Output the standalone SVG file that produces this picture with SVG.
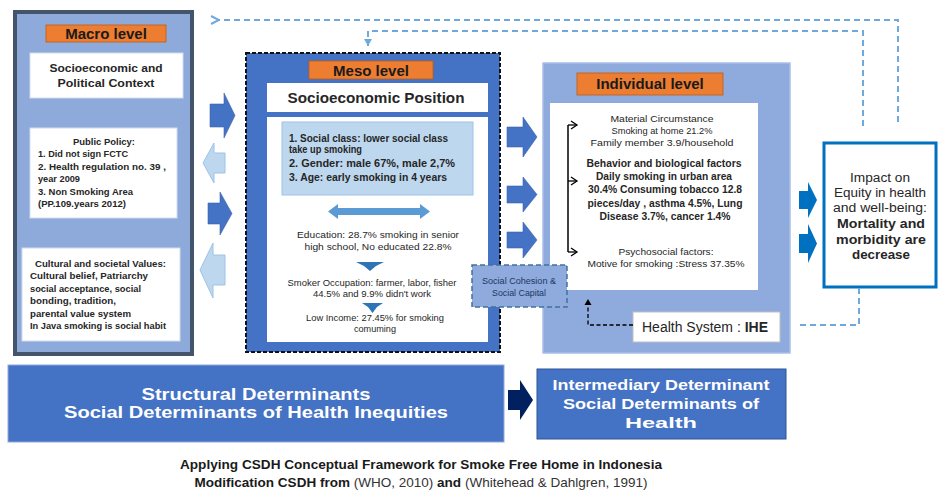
<svg xmlns="http://www.w3.org/2000/svg" width="939" height="493" viewBox="0 0 939 493">
<defs>
<style>
.t{font-family:"Liberation Sans",Arial,sans-serif;fill:#262626}
.b{font-weight:bold}
.c{text-anchor:middle}
.lbl{font-family:"Liberation Sans",Arial,sans-serif;font-weight:bold;font-size:15px;fill:#1a1a1a;text-anchor:middle}
.org{fill:#ED7D31;stroke:#C55A11;stroke-width:0.8}
.wb{fill:#fff;stroke:#D0DCEF;stroke-width:1}
.ad{fill:#4472C4;stroke:#3A64B0;stroke-width:0.6}
.al{fill:#BDD7EE;stroke:#9DC3E6;stroke-width:1}
.ai{fill:#0070C0}
.dash{fill:none;stroke:#6FA8DC;stroke-width:2;stroke-dasharray:6 4}
.wt{font-family:"Liberation Sans",Arial,sans-serif;font-weight:bold;fill:#fff;text-anchor:middle}
</style>
<marker id="mL" markerWidth="10" markerHeight="10" refX="1" refY="5" orient="auto" markerUnits="userSpaceOnUse"><path d="M9,1 L1,5 L9,9" fill="none" stroke="#6FA8DC" stroke-width="2"/></marker>
<marker id="mD" markerWidth="10" markerHeight="10" refX="5" refY="9" markerUnits="userSpaceOnUse"><path d="M1,2 L5,9 L9,2 Z" fill="#6FA8DC"/></marker>
<marker id="mB" markerWidth="10" markerHeight="10" refX="8" refY="5" orient="auto" markerUnits="userSpaceOnUse"><path d="M2,1 L8,5 L2,9" fill="none" stroke="#000" stroke-width="1.3"/></marker>
<marker id="mU" markerWidth="8" markerHeight="8" refX="4" refY="1" markerUnits="userSpaceOnUse"><path d="M0.5,7 L4,1 L7.5,7 Z" fill="#000"/></marker>
</defs>
<rect width="939" height="493" fill="#fff"/>

<g id="macro">
<rect x="15" y="12" width="177" height="342" fill="#8EAADB" stroke="#44546A" stroke-width="4"/>
<rect class="org" x="46" y="25" width="120" height="17"/>
<text class="lbl" x="106" y="39">Macro level</text>
<rect class="wb" x="30" y="53" width="153" height="45"/>
<text class="t b c" x="106" y="72" font-size="11.5" textLength="113" lengthAdjust="spacingAndGlyphs">Socioeconomic and</text>
<text class="t b c" x="106" y="87" font-size="11.5" textLength="97" lengthAdjust="spacingAndGlyphs">Political Context</text>
<rect class="wb" x="30" y="128" width="147" height="90"/>
<text class="t b c" x="104" y="145" font-size="9.5" textLength="62" lengthAdjust="spacingAndGlyphs">Public Policy:</text>
<text class="t b" x="38" y="157" font-size="9.5" textLength="90" lengthAdjust="spacingAndGlyphs">1. Did not sign FCTC</text>
<text class="t b" x="38" y="170" font-size="9.5" textLength="128" lengthAdjust="spacingAndGlyphs">2. Health regulation no. 39 ,</text>
<text class="t b" x="38" y="182" font-size="9.5" textLength="42" lengthAdjust="spacingAndGlyphs">year 2009</text>
<text class="t b" x="38" y="195" font-size="9.5" textLength="95" lengthAdjust="spacingAndGlyphs">3. Non Smoking Area</text>
<text class="t b" x="38" y="207" font-size="9.5" textLength="88" lengthAdjust="spacingAndGlyphs">(PP.109.years 2012)</text>
<rect class="wb" x="22" y="248" width="158" height="93"/>
<text class="t b" x="35" y="267" font-size="9.5" textLength="131" lengthAdjust="spacingAndGlyphs">Cultural and societal Values:</text>
<text class="t b" x="30" y="279" font-size="9.5" textLength="118" lengthAdjust="spacingAndGlyphs">Cultural belief, Patriarchy</text>
<text class="t b" x="30" y="292" font-size="9.5" textLength="111" lengthAdjust="spacingAndGlyphs">social acceptance, social</text>
<text class="t b" x="30" y="304" font-size="9.5" textLength="86" lengthAdjust="spacingAndGlyphs">bonding, tradition,</text>
<text class="t b" x="30" y="317" font-size="9.5" textLength="101" lengthAdjust="spacingAndGlyphs">parental value system</text>
<text class="t b" x="30" y="329" font-size="9.5" textLength="136" lengthAdjust="spacingAndGlyphs">In Java smoking is social habit</text>
</g>

<g id="meso">
<rect x="246" y="53" width="254" height="299" fill="#4472C4" stroke="#111" stroke-width="2" stroke-dasharray="4 2"/>
<rect class="org" x="309" y="61" width="124" height="18"/>
<text class="lbl" x="371" y="76">Meso level</text>
<rect x="267" y="83" width="221" height="29" fill="#fff"/>
<text class="t b c" x="376" y="103" font-size="14" textLength="177" lengthAdjust="spacingAndGlyphs">Socioeconomic Position</text>
<rect x="267" y="117" width="221" height="225" fill="#fff"/>
<rect x="282" y="122" width="191" height="73" fill="#BDD7EE" stroke="#9DC3E6" stroke-width="1"/>
<text class="t b" x="289" y="142" font-size="10" textLength="159" lengthAdjust="spacingAndGlyphs">1. Social class: lower social class</text>
<text class="t b" x="289" y="153" font-size="10" textLength="73" lengthAdjust="spacingAndGlyphs">take up smoking</text>
<text class="t b" x="289" y="167" font-size="10" textLength="166" lengthAdjust="spacingAndGlyphs">2. Gender:  male  67%, male 2,7%</text>
<text class="t b" x="289" y="181" font-size="10" textLength="158" lengthAdjust="spacingAndGlyphs">3. Age: early smoking in 4 years</text>
<path d="M328,211.5 L338,204 V208 H420 V204 L430,211.5 L420,219 V215 H338 V219 Z" fill="#5B9BD5"/>
<text class="t c" x="378" y="238" font-size="9.5" textLength="162" lengthAdjust="spacingAndGlyphs">Education: 28.7% smoking in senior</text>
<text class="t c" x="378" y="250" font-size="9.5" textLength="147" lengthAdjust="spacingAndGlyphs">high school, No educated 22.8%</text>
<path d="M356,262 H384 L376,266 L370,271 L364,266 Z" fill="#2E75B6"/>
<text class="t c" x="372" y="286" font-size="9" textLength="169" lengthAdjust="spacingAndGlyphs">Smoker Occupation:  farmer, labor, fisher</text>
<text class="t c" x="372" y="297" font-size="9" textLength="118" lengthAdjust="spacingAndGlyphs">44.5% and 9.9% didn't work</text>
<path d="M362,303 H383 L377,307 L372.5,313 L368,307 Z" fill="#2E75B6"/>
<text class="t c" x="375" y="321" font-size="9" textLength="138" lengthAdjust="spacingAndGlyphs">Low Income: 27.45%  for smoking</text>
<text class="t c" x="375" y="332" font-size="9" textLength="42" lengthAdjust="spacingAndGlyphs">comuming</text>
</g>

<g id="individual">
<rect x="543" y="63" width="247" height="290" fill="#8FAADC" stroke="#A9BFE6" stroke-width="1.5"/>
<rect class="org" x="577" y="73" width="146" height="22"/>
<text class="lbl" x="650" y="89" font-size="15.5">Individual  level</text>
<rect x="550" y="103" width="208" height="187" fill="#fff"/>
<text class="t c" x="662" y="122" font-size="9" fill="#3a3a3a" textLength="103" lengthAdjust="spacingAndGlyphs">Material Circumstance</text>
<text class="t c" x="662" y="134" font-size="9" textLength="101" lengthAdjust="spacingAndGlyphs">Smoking at home 21.2%</text>
<text class="t c" x="662" y="146" font-size="9" textLength="143" lengthAdjust="spacingAndGlyphs">Family member 3.9/household</text>
<text class="t b c" x="664" y="167" font-size="10.5" textLength="155" lengthAdjust="spacingAndGlyphs">Behavior and biological factors</text>
<text class="t b c" x="664" y="180" font-size="10.5" textLength="136" lengthAdjust="spacingAndGlyphs">Daily smoking in urban area</text>
<text class="t b c" x="665" y="193" font-size="10.5" textLength="154" lengthAdjust="spacingAndGlyphs">30.4% Consuming tobacco 12.8</text>
<text class="t b c" x="665" y="207" font-size="10.5" textLength="155" lengthAdjust="spacingAndGlyphs">pieces/day , asthma 4.5%, Lung</text>
<text class="t b c" x="665" y="220" font-size="10.5" textLength="131" lengthAdjust="spacingAndGlyphs">Disease 3.7%, cancer 1.4%</text>
<text class="t c" x="666" y="255" font-size="9" textLength="95" lengthAdjust="spacingAndGlyphs">Psychosocial factors:</text>
<text class="t c" x="666" y="267" font-size="9" textLength="157" lengthAdjust="spacingAndGlyphs">Motive for smoking :Stress 37.35%</text>
</g>

<g id="health-system">
<rect x="633" y="312" width="147" height="30" fill="#fff" stroke="#BFBFBF" stroke-width="1"/>
<text x="642" y="332" font-family="'Liberation Sans',Arial,sans-serif" font-size="14" fill="#262626" textLength="126" lengthAdjust="spacingAndGlyphs">Health System : <tspan font-weight="bold">IHE</tspan></text>
</g>

<g id="social-cohesion">
<rect x="472" y="265" width="95" height="42" fill="#8FAADC" stroke="#41719C" stroke-width="1.5" stroke-dasharray="5 3"/>
<text class="c" x="519" y="284" font-family="'Liberation Sans',Arial,sans-serif" font-size="8.5" fill="#203864" textLength="74" lengthAdjust="spacingAndGlyphs">Social Cohesion &amp;</text>
<text class="c" x="519" y="296" font-family="'Liberation Sans',Arial,sans-serif" font-size="8.5" fill="#203864" textLength="54" lengthAdjust="spacingAndGlyphs">Social Capital</text>
</g>

<g id="impact">
<rect x="824" y="143" width="112" height="144" fill="#fff" stroke="#0070C0" stroke-width="3"/>
<g font-family="'Liberation Sans',Arial,sans-serif" fill="#262626" text-anchor="middle">
<text x="880" y="182" font-size="12.5" textLength="60" lengthAdjust="spacingAndGlyphs">Impact on</text>
<text x="880" y="197" font-size="12.5" textLength="92" lengthAdjust="spacingAndGlyphs">Equity in health</text>
<text x="880" y="212" font-size="12.5" textLength="94" lengthAdjust="spacingAndGlyphs">and well-being:</text>
<text x="881" y="228" font-size="13" font-weight="bold" textLength="88" lengthAdjust="spacingAndGlyphs">Mortality and</text>
<text x="881" y="244" font-size="13" font-weight="bold" textLength="90" lengthAdjust="spacingAndGlyphs">morbidity are</text>
<text x="881" y="259" font-size="13" font-weight="bold" textLength="58" lengthAdjust="spacingAndGlyphs">decrease</text>
</g>
</g>

<g id="structural">
<rect x="8" y="365" width="496" height="77" fill="#4472C4" stroke="#8EAADB" stroke-width="1"/>
<text class="wt" x="256" y="400" font-size="16.5" textLength="229" lengthAdjust="spacingAndGlyphs">Structural Determinants</text>
<text class="wt" x="256" y="418" font-size="16.5" textLength="384" lengthAdjust="spacingAndGlyphs">Social Determinants of Health Inequities</text>
</g>

<g id="intermediary">
<rect x="537" y="369" width="249" height="70" fill="#4472C4" stroke="#2F5597" stroke-width="1"/>
<text class="wt" x="661" y="390" font-size="15" textLength="217" lengthAdjust="spacingAndGlyphs">Intermediary  Determinant</text>
<text class="wt" x="661" y="409" font-size="15" textLength="196" lengthAdjust="spacingAndGlyphs">Social Determinants of</text>
<text class="wt" x="661" y="428" font-size="15" textLength="72" lengthAdjust="spacingAndGlyphs">Health</text>
</g>

<g id="connectors">
<path class="ad" d="M210,104 H224 V93 L235,115.5 L224,138 V127 H210 Z"/>
<path class="al" d="M203,163 L214,143 V153 H225 V173 H214 V183 Z"/>
<path class="ad" d="M208,203 H220 V192 L232,213.5 L220,235 V224 H208 Z"/>
<path class="al" d="M200,270 L213,243 V255 H225 V285 H213 V298 Z"/>
<path class="ad" d="M507,127 H523 V117 L537,137 L523,157 V147 H507 Z"/>
<path class="ad" d="M507,186 H523 V177 L537,194.5 L523,212 V203 H507 Z"/>
<path class="ad" d="M507,232 H523 V222 L537,240 L523,258 V248 H507 Z"/>
<path class="ai" d="M799,191 H808 V182 L817,200 L808,218 V209 H799 Z"/>
<path class="ai" d="M799,234 H808 V224 L817,243.5 L808,263 V253 H799 Z"/>
<path d="M508,390 H520 V380 L533,400 L520,420 V410 H508 Z" fill="#002060"/>
<path d="M568,125 V252" stroke="#000" stroke-width="1.5" fill="none"/>
<path d="M568,125 H577" stroke="#000" stroke-width="1.3" fill="none" marker-end="url(#mB)"/>
<path d="M568,181 H577" stroke="#000" stroke-width="1.3" fill="none" marker-end="url(#mB)"/>
<path d="M568,252 H577" stroke="#000" stroke-width="1.3" fill="none" marker-end="url(#mB)"/>
<path d="M633,325 H588 V299" fill="none" stroke="#000" stroke-width="1.3" stroke-dasharray="4 2.5" marker-end="url(#mU)"/>
<path class="dash" d="M898,122 V20 H219" marker-end="url(#mL)"/>
<path class="dash" d="M863,126 V31 H368 V46" marker-end="url(#mD)"/>
<path class="dash" d="M859,288 V325 H796"/>
</g>

<g id="caption" font-family="'Liberation Sans',Arial,sans-serif" fill="#1a1a1a" text-anchor="middle">
<text x="421" y="469" font-size="13" font-weight="bold" textLength="482" lengthAdjust="spacingAndGlyphs">Applying CSDH Conceptual Framework for Smoke Free Home in Indonesia</text>
<text x="421" y="487" font-size="13" textLength="453" lengthAdjust="spacingAndGlyphs"><tspan font-weight="bold">Modification CSDH from </tspan><tspan fill="#333">(WHO, 2010) </tspan><tspan font-weight="bold">and </tspan><tspan fill="#333">(Whitehead &amp; Dahlgren, 1991)</tspan></text>
</g>
</svg>
